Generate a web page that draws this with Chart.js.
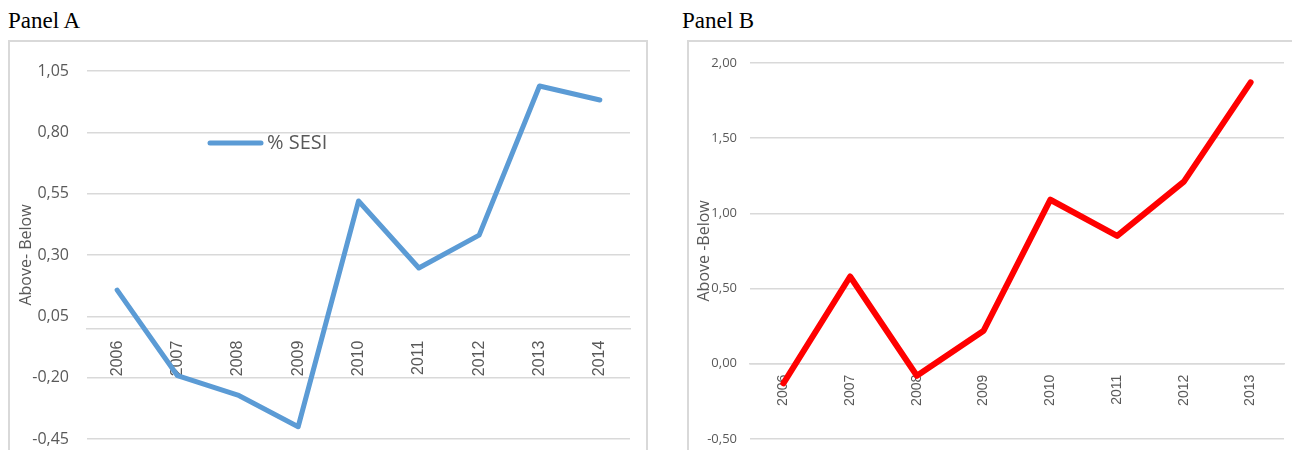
<!DOCTYPE html>
<html>
<head>
<meta charset="utf-8">
<script src="https://cdn.jsdelivr.net/npm/chart.js@4.4.1/dist/chart.umd.min.js"></script>
<style>
  body { margin: 0; width: 1292px; height: 450px; overflow: hidden; background: #fff; position: relative; }
  .titulo { position: absolute; font-family: "Liberation Serif", "Times New Roman", serif; font-size: 23px; color: #000; }
  .caixa { position: absolute; border: 2px solid #d9d9d9; }
  canvas { display: block; }
</style>
</head>
<body>
<div class="titulo" style="left:8px; top:8px;">Panel A</div>
<div class="titulo" style="left:682px; top:8px;">Panel B</div>
<div class="caixa" style="left:8px; top:40px; width:636px; height:430px;">
  <canvas id="graficoA" width="636" height="430"></canvas>
</div>
<div class="caixa" style="left:687px; top:40px; width:620px; height:430px;">
  <canvas id="graficoB" width="620" height="430"></canvas>
</div>
<script>
// Panel A
var anosA = ['2006', '2007', '2008', '2009', '2010', '2011', '2012', '2013', '2014'];
var sesiA = [0.157, -0.192, -0.271, -0.40, 0.52, 0.247, 0.381, 0.989, 0.932];
var ticksA = [-0.45, -0.20, 0.05, 0.30, 0.55, 0.80, 1.05];

// Panel B
var anosB = ['2006', '2007', '2008', '2009', '2010', '2011', '2012', '2013'];
var valoresB = [-0.13, 0.58, -0.08, 0.22, 1.09, 0.85, 1.21, 1.87];
var ticksB = [-0.50, 0.00, 0.50, 1.00, 1.50, 2.00];

var cinza = '#595959';
var grade = '#d9d9d9';

function virgula(v) {
    return Number(v).toFixed(2).replace('.', ',');
}

// legenda desenhada dentro da area do grafico (como no Excel)
var legendaA = {
    id: 'legendaA',
    afterDraw: function (chart) {
        var ctx = chart.ctx;
        var area = chart.chartArea;
        var ds = chart.data.datasets[0];
        var y = area.top + 72;
        ctx.save();
        ctx.strokeStyle = ds.borderColor;
        ctx.lineWidth = 5;
        ctx.lineCap = 'round';
        ctx.beginPath();
        ctx.moveTo(area.left + 123, y);
        ctx.lineTo(area.left + 174, y);
        ctx.stroke();
        ctx.fillStyle = cinza;
        ctx.font = '20px "Open Sans"';
        ctx.textBaseline = 'middle';
        ctx.fillText(ds.label, area.left + 180, y);
        ctx.restore();
    }
};

function criarGrafico(id, anos, valores, marcas, cfg) {
    return new Chart(document.getElementById(id).getContext('2d'), {
        type: 'line',
        data: {
            labels: anos,
            datasets: [{
                label: cfg.rotulo,
                data: valores,
                borderColor: cfg.cor,
                borderWidth: cfg.espessura,
                borderCapStyle: 'round',
                borderJoinStyle: 'round',
                pointRadius: 0,
                tension: 0,
                fill: false
            }]
        },
        options: {
            responsive: false,
            animation: false,
            layout: { padding: cfg.padding },
            plugins: {
                legend: { display: false },
                tooltip: { enabled: false }
            },
            scales: {
                x: {
                    type: 'category',
                    offset: true,
                    position: { y: 0 },
                    grid: { display: false, drawTicks: false, offset: true },
                    border: { display: true, color: grade, width: 1.5 },
                    ticks: {
                        autoSkip: false,
                        minRotation: 90,
                        maxRotation: 90,
                        padding: cfg.padX,
                        color: cinza,
                        font: { family: '"Liberation Sans", Arial', size: cfg.fonteX }
                    }
                },
                y: {
                    min: marcas[0],
                    max: marcas[marcas.length - 1],
                    afterBuildTicks: function (s) {
                        s.ticks = marcas.map(function (v) { return { value: v }; });
                    },
                    afterFit: function (s) { s.width = cfg.larguraY; },
                    grid: { color: grade, lineWidth: 1.5, drawTicks: false },
                    border: { display: false },
                    ticks: {
                        padding: cfg.padY,
                        color: cinza,
                        font: { family: '"Open Sans"', size: cfg.fonteY },
                        callback: function (v) { return virgula(v); }
                    },
                    title: {
                        display: true,
                        text: cfg.tituloY,
                        color: cinza,
                        padding: { top: cfg.padTitulo, bottom: 0 },
                        font: { family: '"Open Sans"', size: 16 }
                    }
                }
            }
        },
        plugins: cfg.plugins
    });
}

criarGrafico('graficoA', anosA, sesiA, ticksA, {
    rotulo: '% SESI',
    cor: '#5b9bd5',
    espessura: 5,
    padding: { left: 0, top: 29, right: 16, bottom: 33 },
    larguraY: 77,
    padX: 12,
    padY: 18,
    fonteX: 16,
    fonteY: 16,
    padTitulo: 7,
    tituloY: 'Above- Below',
    plugins: [legendaA]
});

criarGrafico('graficoB', anosB, valoresB, ticksB, {
    rotulo: 'Above -Below',
    cor: '#ff0000',
    espessura: 6,
    padding: { left: 0, top: 18, right: 25, bottom: 33 },
    larguraY: 61,
    padX: 11,
    padY: 13,
    fonteX: 14,
    fonteY: 13,
    padTitulo: 6,
    tituloY: 'Above -Below',
    plugins: []
});
</script>
</body>
</html>
